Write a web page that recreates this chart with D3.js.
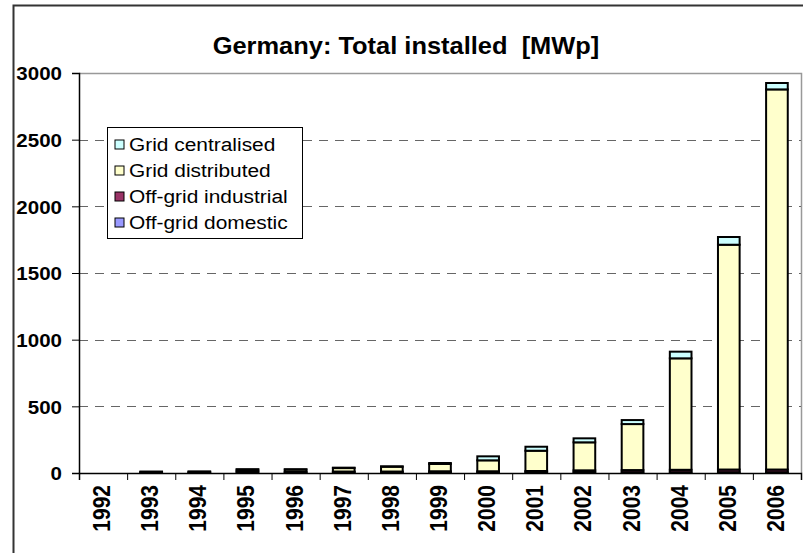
<!DOCTYPE html>
<html>
<head>
<meta charset="utf-8">
<script src="https://cdn.jsdelivr.net/npm/d3@7"></script>
<style>
  body { margin: 0; background: #fff; }
  text { font-family: "Liberation Sans", Arial, sans-serif; }
</style>
</head>
<body>
<div class="canvas"></div>
<script>
// data (MWp, cumulative)
const years = ['1992','1993','1994','1995','1996','1997','1998','1999','2000','2001','2002','2003','2004','2005','2006'];
const offGridDomestic   = [0, 2, 2, 4, 4, 5, 5, 5, 5, 5, 6, 6, 6, 6, 6];
const offGridIndustrial = [0, 5, 6, 10, 5, 6, 6, 8, 8, 10, 14, 16, 18, 20, 20];
const gridDistributed   = [0, 4, 4, 12, 17, 26, 36, 55, 82, 152, 210, 345, 836, 1686, 2851];
const gridCentralised   = [0, 0, 0, 2, 2, 3, 3, 7, 30, 30, 30, 30, 50, 58, 48];
const yTicks = [0, 500, 1000, 1500, 2000, 2500, 3000];

const seriesNames = ['Off-grid domestic', 'Off-grid industrial', 'Grid distributed', 'Grid centralised'];
const seriesValues = [offGridDomestic, offGridIndustrial, gridDistributed, gridCentralised];
const colors = ['#9999FF', '#993366', '#FFFFCC', '#CCFFFF'];

const width = 803, height = 553;
const svg = d3.select('.canvas')
  .append('svg')
  .attr('width', width)
  .attr('height', height);

// outer chart border
svg.append('rect')
  .attr('x', 13.5).attr('y', 5.5)
  .attr('width', width + 10).attr('height', height + 10)
  .attr('fill', 'none')
  .attr('stroke', '#333')
  .attr('stroke-width', 2);

const plotLeft = 79, plotRight = 801, plotTop = 73, plotBottom = 473;

// build table for stack
const table = years.map((yr, i) => {
  const row = { year: yr };
  seriesNames.forEach((s, k) => row[s] = seriesValues[k][i]);
  return row;
});
const stacked = d3.stack().keys(seriesNames)(table);

const x = d3.scaleBand()
  .domain(years)
  .range([plotLeft, plotRight])
  .paddingInner(0.55)
  .paddingOuter(0.275);

const xEdge = d3.scaleLinear()
  .domain([0, years.length])
  .range([plotLeft, plotRight]);

const y = d3.scaleLinear()
  .domain([0, 3000])
  .range([plotBottom, plotTop]);

// title
svg.append('text')
  .attr('x', 406).attr('y', 54)
  .attr('text-anchor', 'middle')
  .attr('font-weight', 'bold')
  .attr('font-size', 24)
  .attr('transform', 'translate(406,0) scale(1.06,1) translate(-406,0)')
  .attr('xml:space', 'preserve')
  .text('Germany: Total installed  [MWp]');

// plot area border (top and right)
svg.append('path')
  .attr('d', `M${plotLeft},${plotTop + 0.5}H${plotRight + 0.5}V${plotBottom}`)
  .attr('fill', 'none')
  .attr('stroke', '#999')
  .attr('stroke-width', 1.5);

// gridlines
svg.append('g')
  .selectAll('line')
  .data(yTicks.filter(d => d > 0 && d < 3000))
  .enter().append('line')
  .attr('x1', plotLeft).attr('x2', plotRight)
  .attr('y1', d => Math.round(y(d)) + 0.5)
  .attr('y2', d => Math.round(y(d)) + 0.5)
  .attr('stroke', '#666')
  .attr('stroke-dasharray', '9,7');

// bars
svg.append('g')
  .selectAll('g')
  .data(stacked)
  .enter().append('g')
  .attr('fill', (d, i) => colors[i])
  .selectAll('rect')
  .data(d => d.filter(p => p[1] - p[0] > 0))
  .enter().append('rect')
  .attr('x', d => x(d.data.year))
  .attr('width', x.bandwidth())
  .attr('y', d => y(d[1]))
  .attr('height', d => y(d[0]) - y(d[1]))
  .attr('stroke', '#000')
  .attr('stroke-width', 2);

// y axis
const yAxisGroup = svg.append('g')
  .attr('transform', `translate(${plotLeft}, 0)`)
  .call(d3.axisLeft(y).tickValues(yTicks).tickFormat(d3.format('d')).tickSize(7).tickPadding(0));
yAxisGroup.selectAll('text')
  .attr('font-family', '"Liberation Sans", Arial, sans-serif')
  .attr('font-weight', 'bold')
  .attr('font-size', 19)
  .attr('x', -17)
  .attr('dy', '0.36em')
  .attr('transform', 'translate(-17,0) scale(1.08,1) translate(17,0)')
  .attr('fill', '#000');
yAxisGroup.select('.domain').attr('stroke', '#000').attr('stroke-width', 1.5);
yAxisGroup.selectAll('line').attr('stroke', '#000');

// x axis (ticks at category edges)
const xAxisGroup = svg.append('g')
  .attr('transform', `translate(0, ${plotBottom})`)
  .call(d3.axisBottom(xEdge).ticks(years.length).tickSize(7).tickFormat(''));
xAxisGroup.select('.domain').attr('stroke', '#000').attr('stroke-width', 1.5);
xAxisGroup.selectAll('line').attr('stroke', '#000');

// x labels rotated
svg.append('g')
  .selectAll('text')
  .data(years)
  .enter().append('text')
  .attr('transform', d => `translate(${x(d) + x.bandwidth() / 2 + 7}, 485) rotate(-90) scale(1,1.12)`)
  .attr('text-anchor', 'end')
  .attr('font-weight', 'bold')
  .attr('font-size', 21)
  .text(d => d);

// legend
const legend = svg.append('g').attr('transform', 'translate(107, 127)');
legend.append('rect')
  .attr('x', 0.5).attr('y', 0.5)
  .attr('width', 195).attr('height', 111)
  .attr('fill', '#fff')
  .attr('stroke', '#000');
const legendOrder = [3, 2, 1, 0];
const items = legend.selectAll('.item')
  .data(legendOrder)
  .enter().append('g')
  .attr('transform', (d, i) => `translate(8, ${17 + i * 26})`);
items.append('rect')
  .attr('x', 0).attr('y', -4)
  .attr('width', 9).attr('height', 9)
  .attr('fill', d => colors[d])
  .attr('stroke', '#000');
items.append('text')
  .attr('x', 14).attr('y', 7)
  .attr('font-size', 19)
  .attr('transform', 'translate(14,0) scale(1.1,1) translate(-14,0)')
  .text(d => seriesNames[d]);
</script>
</body>
</html>
